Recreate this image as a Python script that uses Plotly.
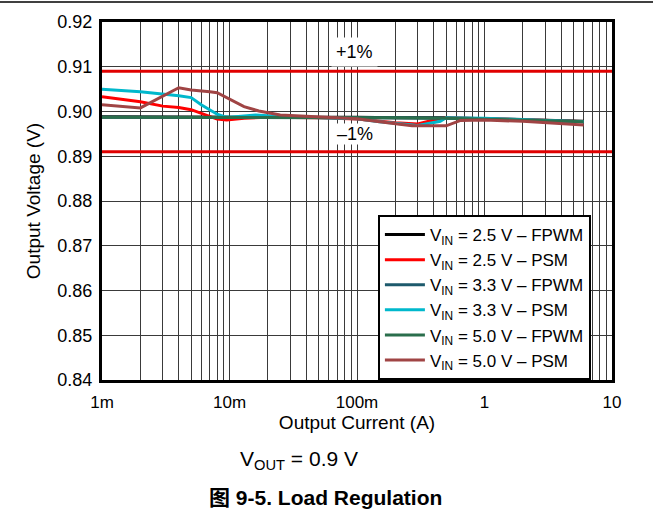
import math
import plotly.graph_objects as go

# ---------------- data ----------------
fpwm_i = [0.001, 0.002, 0.005, 0.01, 0.02, 0.05, 0.1, 0.2, 0.5, 1, 2, 6]
v25_fpwm = [0.8988, 0.8988, 0.8988, 0.8988, 0.8988, 0.8988, 0.8987, 0.8986, 0.8986, 0.8984, 0.8982, 0.8978]
v33_fpwm = [0.8987, 0.8987, 0.8987, 0.8987, 0.8987, 0.8987, 0.8987, 0.8986, 0.8985, 0.8983, 0.8981, 0.8977]
v50_fpwm = [0.8987, 0.8987, 0.8987, 0.8987, 0.8987, 0.8987, 0.8986, 0.8986, 0.8985, 0.8983, 0.8981, 0.8977]

v25_psm_i = [0.001, 0.002, 0.003, 0.004, 0.005, 0.006, 0.007, 0.008, 0.0095, 0.013, 0.02, 0.05, 0.1, 0.15, 0.2, 0.3, 0.4, 0.5, 1, 2, 6]
v25_psm = [0.9033, 0.9022, 0.9012, 0.9009, 0.9004, 0.8996, 0.8988, 0.8983, 0.8981, 0.8985, 0.8987, 0.8986, 0.8983, 0.8978, 0.8975, 0.8972, 0.8981, 0.8986, 0.8984, 0.8982, 0.8977]

v33_psm_i = [0.001, 0.002, 0.004, 0.005, 0.006, 0.007, 0.008, 0.009, 0.01, 0.013, 0.016, 0.025, 0.05, 0.1, 0.15, 0.2, 0.3, 0.45, 0.5, 1, 2, 6]
v33_psm = [0.9050, 0.9044, 0.9035, 0.9031, 0.9015, 0.9003, 0.8994, 0.8989, 0.8987, 0.8990, 0.8992, 0.8989, 0.8987, 0.8984, 0.8977, 0.8973, 0.8969, 0.8978, 0.8986, 0.8985, 0.8982, 0.8977]

v50_psm_i = [0.001, 0.002, 0.004, 0.005, 0.007, 0.008, 0.013, 0.017, 0.025, 0.05, 0.1, 0.15, 0.27, 0.5, 0.65, 1, 2, 6]
v50_psm = [0.9015, 0.9008, 0.9053, 0.9048, 0.9044, 0.9042, 0.9011, 0.9001, 0.8992, 0.8988, 0.8984, 0.8977, 0.8968, 0.8968, 0.8980, 0.8981, 0.8978, 0.8970]

limit_i = [0.001, 10]
limit_hi = [0.909, 0.909]
limit_lo = [0.891, 0.891]

x_tickvals = [0.001, 0.01, 0.1, 1, 10]
x_ticktext = ["1m", "10m", "100m", "1", "10"]
x_minor = [m * d for d in [0.001, 0.01, 0.1, 1] for m in range(2, 10)]
y_tickvals = [0.84, 0.85, 0.86, 0.87, 0.88, 0.89, 0.90, 0.91, 0.92]

series = [
    ("V<sub>IN</sub> = 2.5 V – FPWM", fpwm_i, v25_fpwm, "#000000"),
    ("V<sub>IN</sub> = 2.5 V – PSM", v25_psm_i, v25_psm, "#ff0000"),
    ("V<sub>IN</sub> = 3.3 V – FPWM", fpwm_i, v33_fpwm, "#1d5a6c"),
    ("V<sub>IN</sub> = 3.3 V – PSM", v33_psm_i, v33_psm, "#00b8cc"),
    ("V<sub>IN</sub> = 5.0 V – FPWM", fpwm_i, v50_fpwm, "#2a6e4c"),
    ("V<sub>IN</sub> = 5.0 V – PSM", v50_psm_i, v50_psm, "#a04444"),
]

FONT = "Liberation Sans, Arial, Noto Sans CJK SC, sans-serif"
GRID = "#3a3a3a"

fig = go.Figure()
for yy in (limit_hi, limit_lo):
    fig.add_trace(go.Scatter(x=limit_i, y=yy, mode="lines", showlegend=False,
                             line=dict(color="#e00000", width=3), hoverinfo="skip"))
for name, xi, yi, col in series:
    fig.add_trace(go.Scatter(x=xi, y=yi, mode="lines", name=name,
                             line=dict(color=col, width=3)))

fig.update_layout(
    width=653, height=517,
    margin=dict(l=102, r=41, t=22, b=137),
    paper_bgcolor="white", plot_bgcolor="white",
    font=dict(family=FONT, size=16, color="#000000"),
    showlegend=True,
    legend=dict(x=0.541, y=0, xanchor="left", yanchor="bottom",
                bgcolor="white", bordercolor="black", borderwidth=2,
                font=dict(size=17), tracegroupgap=0, itemwidth=40),
    xaxis=dict(type="log", range=[-3, 1], tickvals=x_tickvals, ticktext=x_ticktext,
               tickfont=dict(size=17),
               showgrid=True, gridcolor=GRID, gridwidth=1,
               minor=dict(tickvals=x_minor, showgrid=True, gridcolor=GRID, gridwidth=1),
               showline=True, mirror=True, linecolor="black", linewidth=3,
               ticks="", ticklabelstandoff=5, zeroline=False,
               title=dict(text="Output Current (A)", standoff=0)),
    yaxis=dict(range=[0.84, 0.92], tickvals=y_tickvals, tickformat=".2f",
               tickfont=dict(size=18),
               showgrid=True, gridcolor=GRID, gridwidth=1,
               showline=True, mirror=True, linecolor="black", linewidth=3,
               ticks="", ticklabelstandoff=3, zeroline=False,
               title=dict(text="Output Voltage (V)", standoff=12)),
)

fig.add_annotation(x=math.log10(0.096), y=0.9133, xref="x", yref="y", text="+1%",
                   showarrow=False, font=dict(size=18), bgcolor="white", borderpad=4)
fig.add_annotation(x=math.log10(0.096), y=0.8949, xref="x", yref="y", text="–1%",
                   showarrow=False, font=dict(size=18), bgcolor="white", borderpad=0)
fig.add_annotation(x=(299 - 102) / 510, y=(380 - 460) / 358, xref="paper", yref="paper",
                   text="V<sub>OUT</sub> = 0.9 V", showarrow=False,
                   font=dict(size=21), xanchor="center", yanchor="middle")
fig.add_annotation(x=(325 - 102) / 510, y=(380 - 497) / 358, xref="paper", yref="paper",
                   text="<b>图 9-5. Load Regulation</b>", showarrow=False,
                   font=dict(size=21), xanchor="center", yanchor="middle")
fig.add_shape(type="line", xref="paper", yref="paper", x0=-0.2, x1=1.0804,
              y0=1.0559, y1=1.0559, line=dict(color="black", width=1.5))

fig.write_html("out.html", config={"displayModeBar": False},
               post_script="document.body.style.margin='0px';")
